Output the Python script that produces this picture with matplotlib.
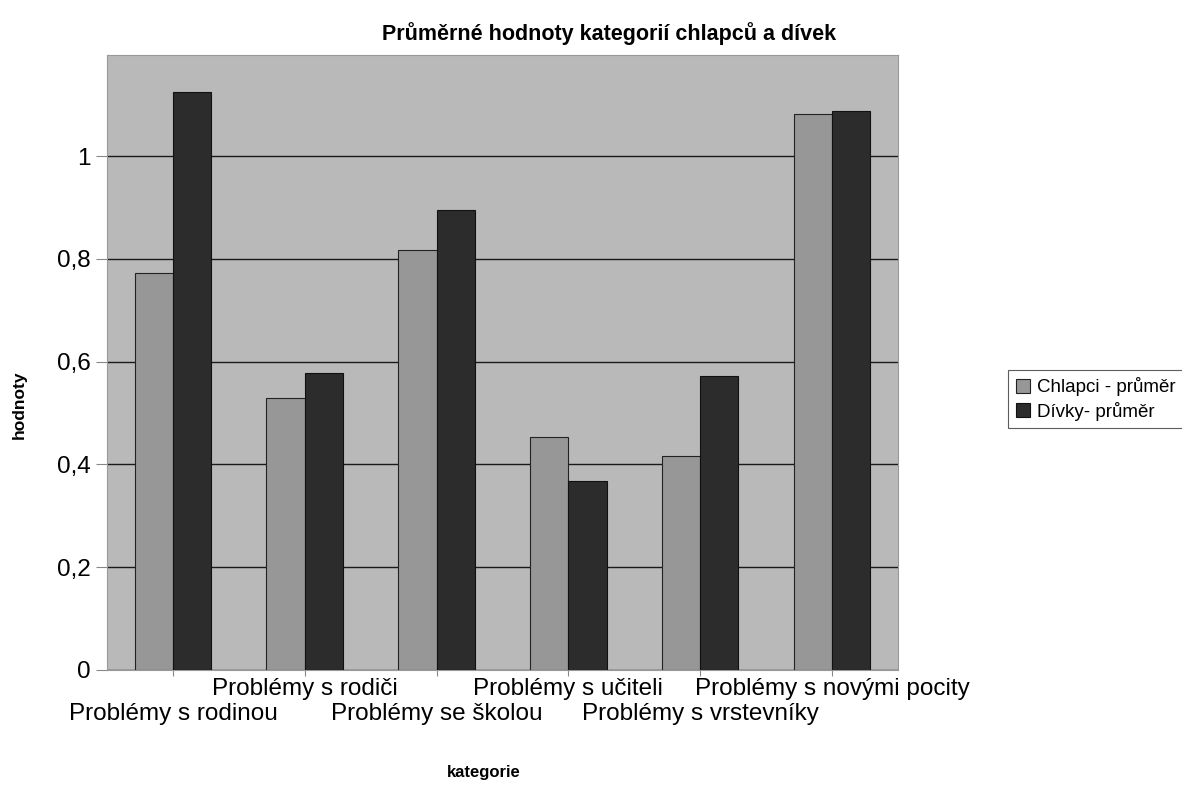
import matplotlib
matplotlib.use("Agg")
import matplotlib.pyplot as plt
import numpy as np

plt.rcParams['font.family'] = ['Liberation Sans', 'DejaVu Sans']

categories = ["Problémy s rodinou", "Problémy s rodiči", "Problémy se školou",
              "Problémy s učiteli", "Problémy s vrstevníky", "Problémy s novými pocity"]
chlapci = [0.772, 0.529, 0.817, 0.453, 0.416, 1.082]
divky = [1.126, 0.578, 0.895, 0.368, 0.572, 1.088]
series_names = ["Chlapci - průměr", "Dívky- průměr"]
yticks = [0, 0.2, 0.4, 0.6, 0.8, 1.0]
ytick_labels = ["0", "0,2", "0,4", "0,6", "0,8", "1"]

fig = plt.figure(figsize=(11.82, 7.94), dpi=100)
ax = fig.add_axes([0.0905, 0.1562, 0.6692, 0.7745])
ax.set_facecolor("#b9b9b9")

x = np.arange(len(categories))
w = 0.29
ax.bar(x - w/2, chlapci, w, color="#979797", edgecolor="#222222", linewidth=0.8,
       label=series_names[0], zorder=3)
ax.bar(x + w/2, divky, w, color="#2c2c2c", edgecolor="#111111", linewidth=0.8,
       label=series_names[1], zorder=3)

ax.set_xlim(-0.5, len(categories) - 0.5)
ax.set_ylim(0, 1.197)
ax.set_yticks(yticks)
ax.set_yticklabels(ytick_labels, fontsize=17.5)
ax.yaxis.grid(True, color="#1a1a1a", linewidth=1.0, zorder=1)
ax.set_axisbelow(True)

ax.set_xticks(x)
ax.set_xticklabels([])
ax.tick_params(axis='x', length=4, color="#888888", direction='out')
ax.tick_params(axis='y', length=8, color="#888888", direction='out', pad=4)
for i, c in enumerate(categories):
    yoff = -0.031 if i % 2 == 1 else -0.072
    ax.text(i, yoff, c, transform=ax.get_xaxis_transform(), ha='center', va='center',
            fontsize=17.5)

for s in ax.spines.values():
    s.set_color("#999999")
    s.set_linewidth(0.8)

fig.text(0.515, 0.958, "Průměrné hodnoty kategorií chlapců a dívek", ha='center',
         va='center', fontsize=15.5, fontweight='bold')
fig.text(0.016, 0.49, "hodnoty", rotation=90, ha='center', va='center',
         fontsize=12.5, fontweight='bold')
fig.text(0.409, 0.027, "kategorie", ha='center', va='center', fontsize=12,
         fontweight='bold')

leg = ax.legend(loc='center left', bbox_to_anchor=(0.845, 0.4975), bbox_transform=fig.transFigure,
                frameon=True, fancybox=False, edgecolor="#333333", fontsize=13.5,
                handlelength=0.75, handleheight=0.75, handletextpad=0.4, borderpad=0.4,
                labelspacing=0.3)
leg.get_frame().set_linewidth(0.8)

fig.savefig("out.png", dpi=100)
